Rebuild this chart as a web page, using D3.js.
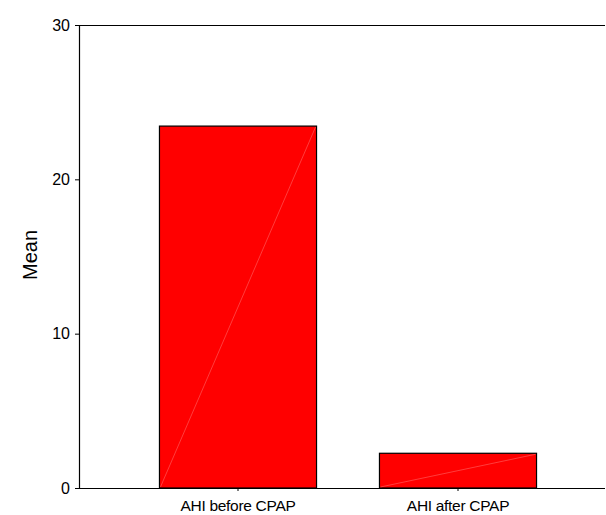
<!DOCTYPE html>
<html>
<head>
<meta charset="utf-8">
<script src="https://cdn.jsdelivr.net/npm/d3@7"></script>
<style>
  html, body { margin: 0; padding: 0; background: #fff; }
  svg { display: block; }
  text { font-family: Arial, "Liberation Sans", sans-serif; fill: #000; }
</style>
</head>
<body>
<svg id="chart" width="606" height="515"></svg>
<script>
const categories = ["AHI before CPAP", "AHI after CPAP"];
const means = [23.45, 2.25];
const yTicks = [0, 10, 20, 30];
const yLabel = "Mean";

(function () {
const svg = d3.select("#chart");
const pLeft = 79, pRight = 605, pTop = 25, pBottom = 488;
const FONT = "Arial, 'Liberation Sans', sans-serif";

const y = d3.scaleLinear().domain([0, 30]).range([pBottom, pTop]);
const x = d3.scaleBand().domain(categories).range([128, 568]).paddingInner(0.286).paddingOuter(0.143);

// top frame line
svg.append("line").attr("x1", pLeft).attr("x2", pRight).attr("y1", pTop + 0.5).attr("y2", pTop + 0.5)
  .attr("stroke", "#000").attr("stroke-width", 1.2);

// bars
const bars = svg.append("g");
categories.forEach((c, i) => {
  const x0 = x(c), w = x.bandwidth(), y0 = y(means[i]);
  bars.append("rect").attr("x", x0).attr("y", y0).attr("width", w).attr("height", y(0) - y0)
    .attr("fill", "#ff0000").attr("stroke", "#000").attr("stroke-width", 1.2);
  bars.append("line").attr("x1", x0 + 1).attr("y1", y(0) - 1).attr("x2", x0 + w - 1).attr("y2", y0 + 1)
    .attr("stroke", "#ff8080").attr("stroke-width", 0.6).attr("opacity", 0.8);
});

// y axis
const yAxis = svg.append("g").attr("transform", `translate(${pLeft},0)`)
  .call(d3.axisLeft(y).tickValues(yTicks).tickSize(4).tickPadding(5).tickFormat(d3.format("d")));
yAxis.select(".domain").attr("stroke", "#000").attr("stroke-width", 1.2).attr("d", `M0.5,${pTop}V${pBottom}`);
yAxis.selectAll(".tick line").attr("stroke", "#000");
yAxis.selectAll(".tick text").attr("font-size", 16).style("font-family", FONT);

// x axis
const xAxis = svg.append("g").attr("transform", `translate(0,${pBottom})`)
  .call(d3.axisBottom(x).tickSize(3).tickPadding(9));
xAxis.select(".domain").attr("stroke", "#000").attr("stroke-width", 1.2).attr("d", `M${pLeft},0.5H${pRight}`);
xAxis.selectAll(".tick line").attr("stroke", "#000");
xAxis.selectAll(".tick text").attr("font-size", 15.5).attr("letter-spacing", "-0.3px")
  .style("font-family", FONT);

// y label
svg.append("text").attr("transform", `translate(37,255) rotate(-90)`)
  .attr("text-anchor", "middle").attr("font-size", 20).style("font-family", FONT).text(yLabel);
})();
</script>
</body>
</html>
